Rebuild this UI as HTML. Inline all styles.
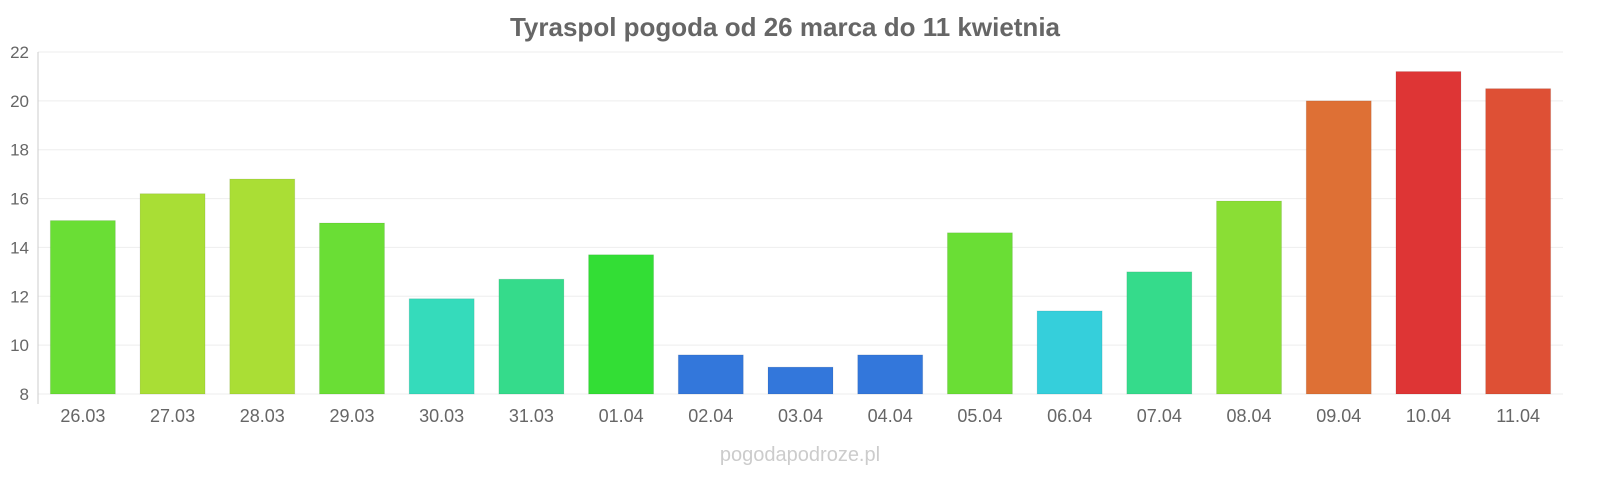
<!DOCTYPE html>
<html><head><meta charset="utf-8"><style>
body{margin:0;background:#fff;width:1600px;height:480px;overflow:hidden;font-family:"Liberation Sans",sans-serif}
</style></head><body>
<svg id="chart" width="1600" height="480" xmlns="http://www.w3.org/2000/svg">
<text x="785" y="36" text-anchor="middle" font-size="26" font-weight="bold" fill="#666">Tyraspol pogoda od 26 marca do 11 kwietnia</text>
<text x="800" y="461" text-anchor="middle" font-size="20" fill="#ccc">pogodapodroze.pl</text>
<g id="grid"></g><g id="bars"></g><g id="labels"></g>
</svg>
<script>
const categories=["26.03","27.03","28.03","29.03","30.03","31.03","01.04","02.04","03.04","04.04","05.04","06.04","07.04","08.04","09.04","10.04","11.04"];
const temps=[15.1,16.2,16.8,15.0,11.9,12.7,13.7,9.6,9.1,9.6,14.6,11.4,13.0,15.9,20.0,21.2,20.5];
const colors=["#6ade35","#a9de35","#aade35","#6ade35","#35dbbb","#35db8b","#33de35","#3377db","#3377db","#3377db","#6ade35","#35cfdb","#35db8b","#8ade35","#de7035","#de3535","#de5035"];
const yTicks=[8,10,12,14,16,18,20,22];
const NS="http://www.w3.org/2000/svg";
const x0=38,x1=1563,yTop=52,yBot=394,yMin=8,yMax=22;
const band=(x1-x0)/categories.length;
function y(v){return yBot-(v-yMin)/(yMax-yMin)*(yBot-yTop);}
function xc(i){return x0+band*(i+0.5);}
function mk(t,a,p){const e=document.createElementNS(NS,t);for(const k in a)e.setAttribute(k,a[k]);p.appendChild(e);return e;}
const g=document.getElementById('grid'),b=document.getElementById('bars'),l=document.getElementById('labels');
yTicks.forEach(v=>{
 const ln=mk('line',{x1:x0,x2:x1,y1:y(v),y2:y(v),stroke:'#eee','stroke-width':1},g);
 
 
 const t=mk('text',{x:29,y:y(v)+6,'text-anchor':'end','font-size':17,fill:'#666'},g);
 t.textContent=v;
 
 
});
const ax=mk('line',{x1:x0,x2:x0,y1:yTop,y2:yBot+10,stroke:'#ccc','stroke-width':1},g);


temps.forEach((v,i)=>{
 const r=mk('rect',{x:xc(i)-32.5,y:y(v),width:65,height:yBot-y(v),fill:colors[i],stroke:'rgba(0,0,0,0.08)'},b);
 
 
 const t=mk('text',{x:xc(i),y:422,'text-anchor':'middle','font-size':18,fill:'#666'},l);
 t.textContent=categories[i];
 
 
});
</script>
</body></html>
